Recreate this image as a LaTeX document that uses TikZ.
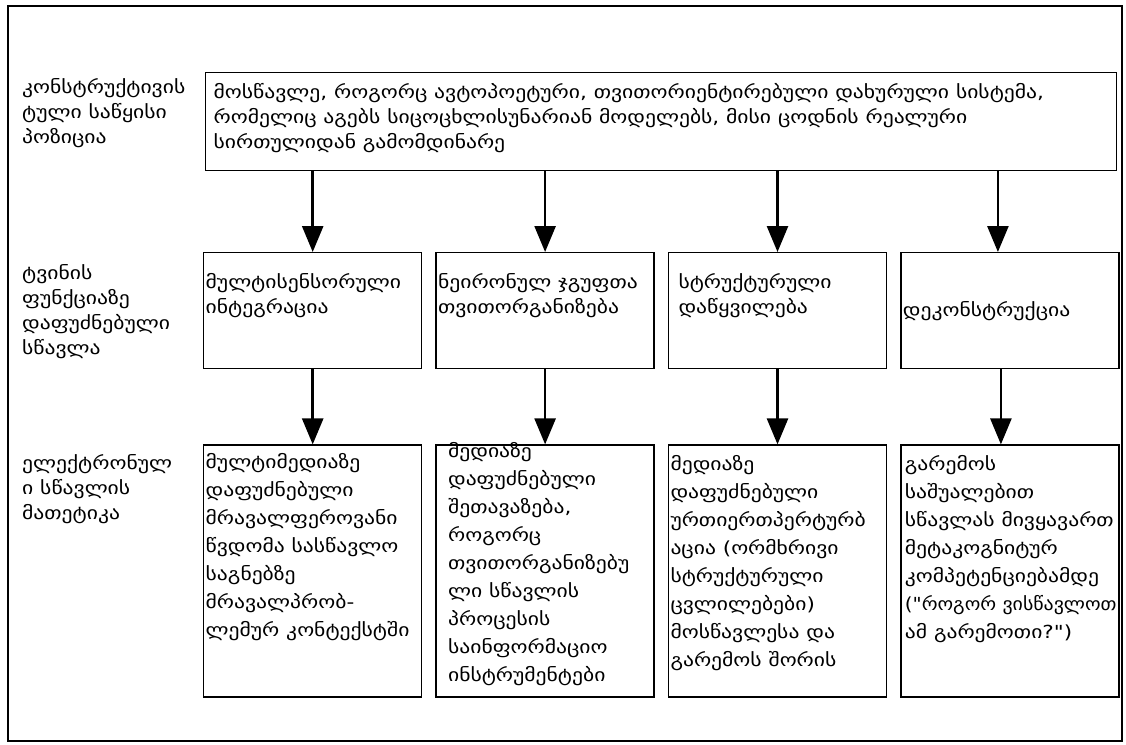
\documentclass[tikz,border=0pt]{standalone}
\usepackage{fontspec}
\newfontfamily\geo{DejaVu Sans}[FakeStretch=1.2]
\usetikzlibrary{positioning,arrows.meta}

% fixed size cell, text hung from the top
\newcommand{\boxtxt}[5][0pt]{%
  \parbox[t][#2][t]{#3}{\vspace*{#4}\hspace*{#1}%
    \begin{tabular}[t]{@{}l@{}}#5\end{tabular}}}

\begin{document}
\begin{tikzpicture}[%
    x=1pt, y=-1pt,
    >={Triangle[length=26pt,width=21pt]},
    node distance=13pt,
    every node/.style={font=\geo\fontsize{18}{25}\selectfont},
    stage/.style={%
      draw,
      line width=1.4pt,
      inner xsep=2pt,
      inner ysep=0pt,
      anchor=north west
    },
    tall/.style={font=\geo\fontsize{18}{28}\selectfont},
    rowlabel/.style={align=left, anchor=north west, inner sep=0pt},
    flow/.style={->, line width=2.6pt}
  ]
    \useasboundingbox (0,0) rectangle (1126,744);
    \draw[line width=1.6pt] (8,6) rectangle (1122,741);

    % row titles
    \node[rowlabel] (pos)   at (22,78)  {კონსტრუქტივის\\ტული საწყისი\\პოზიცია};
    \node[rowlabel] (brain) at (22,264) {ტვინის\\ფუნქციაზე\\დაფუძნებული\\სწავლა};
    \node[rowlabel] (math)  at (22,454) {ელექტრონულ\\ი სწავლის\\მათეტიკა};

    \node[stage] (learner) at (205,72) {\boxtxt[6pt]{98pt}{907pt}{8pt}{%
      მოსწავლე, როგორც ავტოპოეტური, თვითორიენტირებული დახურული სისტემა,\\
      რომელიც აგებს სიცოცხლისუნარიან მოდელებს, მისი ცოდნის რეალური\\
      სირთულიდან გამომდინარე}};

    % brain row
    \node[stage] (msi) at (203,252) {\boxtxt{116pt}{214pt}{18pt}{მულტისენსორული\\ინტეგრაცია}};
    \node[stage] (ngs) [right=of msi] {\boxtxt{116pt}{214pt}{18pt}{ნეირონულ ჯგუფთა\\თვითორგანიზება}};
    \node[stage] (sc)  [right=of ngs] {\boxtxt[8pt]{116pt}{214pt}{18pt}{სტრუქტურული\\დაწყვილება}};
    \node[stage] (dec) [right=of sc]  {\boxtxt{116pt}{214pt}{46pt}{დეკონსტრუქცია}};

    % mathetics row
    \node[stage, tall] (mm)    [below=75pt of msi] {\boxtxt{252pt}{214pt}{4pt}{%
      მულტიმედიაზე\\დაფუძნებული\\მრავალფეროვანი\\წვდომა სასწავლო\\საგნებზე\\მრავალპრობ-\\ლემურ კონტექსტში}};
    \node[stage, tall] (media) [below=75pt of ngs] {\boxtxt[10pt]{252pt}{214pt}{-7pt}{%
      მედიაზე\\დაფუძნებული\\შეთავაზება,\\როგორც\\თვითორგანიზებუ\\ლი სწავლის\\პროცესის\\საინფორმაციო\\ინსტრუმენტები}};
    \node[stage, tall] (pert)  [below=75pt of sc]  {\boxtxt{252pt}{214pt}{6pt}{%
      მედიაზე\\დაფუძნებული\\ურთიერთპერტურბ\\აცია (ორმხრივი\\სტრუქტურული\\ცვლილებები)\\მოსწავლესა და\\გარემოს შორის}};
    \node[stage, tall] (env)   [below=75pt of dec] {\boxtxt[2pt]{252pt}{214pt}{6pt}{%
      გარემოს\\საშუალებით\\სწავლას მივყავართ\\მეტაკოგნიტურ\\კომპეტენციებამდე\\\scalebox{0.92}[1]{("როგორ ვისწავლოთ}\\ამ გარემოთი?")}};

    \foreach \m in {msi,ngs,sc}
      \draw[flow] (learner.south -| \m.north) -- (\m.north);
    \draw[flow] ([xshift=-12pt]learner.south -| dec.north) -- ([xshift=-12pt]dec.north);

    \path[flow] (msi) edge (mm)
                (ngs) edge (media)
                (sc)  edge (pert);
    \draw[flow] ([xshift=-9pt]dec.south) -- ([xshift=-9pt]env.north);
\end{tikzpicture}
\end{document}
